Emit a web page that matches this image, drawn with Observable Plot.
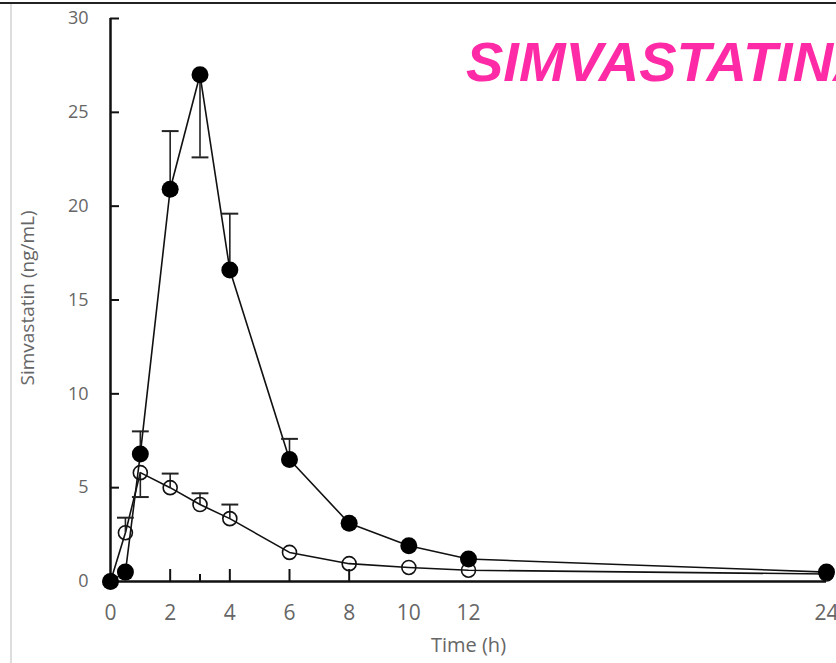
<!DOCTYPE html>
<html><head><meta charset="utf-8">
<script src="https://cdn.jsdelivr.net/npm/d3@7"></script>
<script src="https://cdn.jsdelivr.net/npm/@observablehq/plot@0.6"></script>
<style>
html,body{margin:0;padding:0;background:#fff;overflow:hidden;width:836px;height:663px}
#wrap{position:relative;width:836px;height:663px;overflow:hidden}
#topline{position:absolute;left:0;top:2px;width:836px;height:2px;background:#222}
#leftline{position:absolute;left:10px;top:4px;width:2px;height:659px;background:#ddd}
#title{position:absolute;left:466px;top:29px;line-height:1;font:italic bold 56px "Liberation Sans",Arial,sans-serif;color:#ff2aa5;white-space:nowrap}
#chart svg{display:block}
</style></head><body>
<div id="wrap"><div id="chart"></div><div id="topline"></div><div id="leftline"></div><div id="title">SIMVASTATINA</div></div>
<script>
const title = "SIMVASTATINA";
const xLabel = "Time (h)";
const yLabel = "Simvastatin (ng/mL)";
const time = [0, 0.5, 1, 2, 3, 4, 6, 8, 10, 12, 24];
const filledValues = [0, 0.5, 6.8, 20.9, 27.0, 16.6, 6.5, 3.1, 1.9, 1.2, 0.5];
const openValues = [0, 2.6, 5.8, 5.0, 4.1, 3.35, 1.55, 0.95, 0.75, 0.6, 0.4];
const filledErrTime = [1, 2, 3, 4, 6];
const filledErrEnd = [8.0, 24.0, 22.6, 19.6, 7.6];
const openErrTime = [0.5, 1, 2, 3, 4];
const openErrEnd = [3.4, 4.5, 5.75, 4.7, 4.1];
const xTickValues = [0, 2, 4, 6, 8, 10, 12, 24];
const xTickMarks = [2, 4, 6, 8];
const xMinorTicks = [3];
const yTickValues = [0, 5, 10, 15, 20, 25, 30];

document.getElementById("title").textContent = title;

const filled = time.map((t, i) => ({t, v: filledValues[i]}));
const open = time.map((t, i) => ({t, v: openValues[i]}));
const filledErr = filledErrTime.map((t, i) => ({t, v: filled.find(d => d.t === t).v, e: filledErrEnd[i]}));
const openErr = openErrTime.map((t, i) => ({t, v: open.find(d => d.t === t).v, e: openErrEnd[i]}));

const cap = {draw(ctx, size) { const w = Math.sqrt(size); ctx.moveTo(-w / 2, 0); ctx.lineTo(w / 2, 0); }};
const font = "'Open Sans', 'DejaVu Sans', sans-serif";

const chart = Plot.plot({
  width: 836, height: 663,
  marginLeft: 110, marginRight: 10, marginTop: 18, marginBottom: 82,
  style: {fontFamily: font, background: "transparent", overflow: "visible"},
  x: {domain: [0, 24]},
  y: {domain: [0, 30]},
  marks: [
    Plot.axisY({ticks: yTickValues.filter(d => d > 0), tickSize: 9, dx: 9, tickFormat: () => "", strokeWidth: 2, stroke: "#111", label: null}),
    Plot.axisY({ticks: yTickValues, tickSize: 0, tickPadding: 22, fontSize: 18, fill: "#666", label: null}),
    Plot.axisX({ticks: xTickMarks, tickSize: 12, dy: -12, tickFormat: () => "", strokeWidth: 2, stroke: "#111", label: null}),
    Plot.axisX({ticks: xMinorTicks, tickSize: 7, dy: -7, tickFormat: () => "", strokeWidth: 2, stroke: "#111", label: null}),
    Plot.axisX({ticks: xTickValues, tickSize: 0, tickPadding: 24, fontSize: 21, fill: "#666", label: null}),
    Plot.ruleX([0], {y1: 0, y2: 30, stroke: "#111", strokeWidth: 2.5}),
    Plot.ruleY([0], {x1: 0, x2: 24, stroke: "#111", strokeWidth: 2.5}),
    Plot.text([yLabel], {frameAnchor: "left", dx: -83, dy: -2, rotate: -90, textAnchor: "middle", fontSize: 19, fill: "#666"}),
    Plot.text([xLabel], {frameAnchor: "bottom", dy: 70, fontSize: 20, fill: "#666"}),
    Plot.line(filled, {x: "t", y: "v", stroke: "#111", strokeWidth: 1.6}),
    Plot.line(open, {x: "t", y: "v", stroke: "#111", strokeWidth: 1.6}),
    Plot.ruleX(filledErr, {x: "t", y1: "v", y2: "e", stroke: "#222", strokeWidth: 1.6}),
    Plot.ruleX(openErr, {x: "t", y1: "v", y2: "e", stroke: "#222", strokeWidth: 1.6}),
    Plot.dot(filledErr, {x: "t", y: "e", symbol: cap, r: 9.5, stroke: "#222", strokeWidth: 2, fill: "none"}),
    Plot.dot(openErr, {x: "t", y: "e", symbol: cap, r: 9.5, stroke: "#222", strokeWidth: 2, fill: "none"}),
    Plot.dot(open, {x: "t", y: "v", r: 7, stroke: "#111", strokeWidth: 1.6, fill: "none"}),
    Plot.dot(filled, {x: "t", y: "v", r: 8.5, fill: "#000", stroke: "none"})
  ]
});
document.getElementById("chart").appendChild(chart);
</script>
</body></html>
